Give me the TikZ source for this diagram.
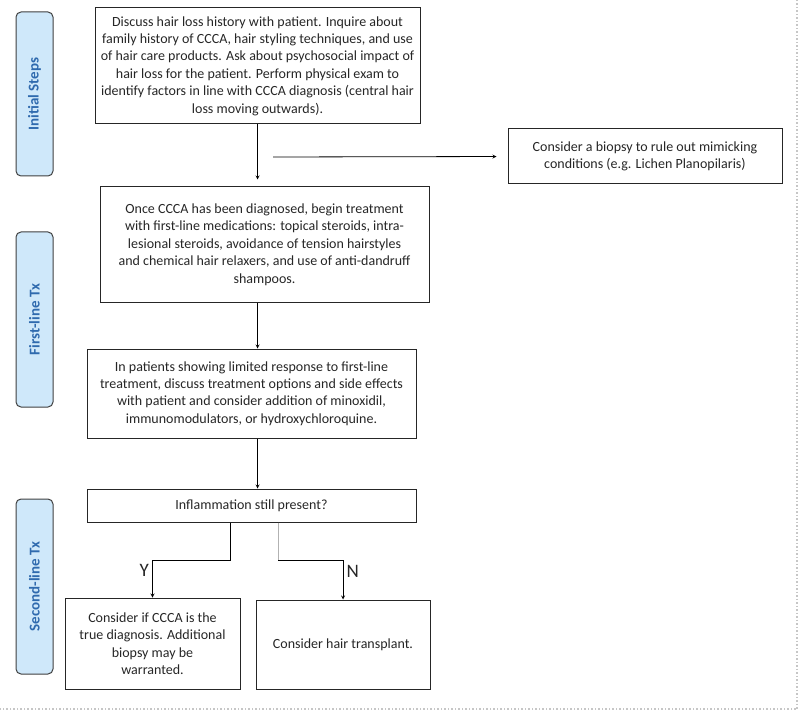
\documentclass[tikz,border=0pt]{standalone}
\usepackage{fontspec}
\setmainfont{Carlito}
\setsansfont{Carlito}
\usepackage{xcolor}
\usetikzlibrary{arrows.meta, positioning, calc}
\definecolor{lanefill}{HTML}{CFE8FA}
\definecolor{lanetext}{HTML}{2F6AAE}

\begin{document}
\begin{tikzpicture}[x=1pt, y=-1pt, >=stealth, font=\sffamily,
    stepbox/.style={draw=black!85, line width=1pt, align=center, inner sep=2pt, text=black!85,
      font=\sffamily\fontsize{14}{17.4}\selectfont},
    lane/.style={draw=black!75, line width=1pt, fill=lanefill, rounded corners=5pt, rotate=90,
      minimum height=37pt, text=lanetext, font=\sffamily\bfseries\fontsize{15}{17}\selectfont},
    flow/.style={->, line width=0.8pt},
    yn/.style={font=\sffamily\fontsize{19}{21}\selectfont, text=black!85}]
        \useasboundingbox (0,0) rectangle (800,711);
        
        \node[lane, minimum width=164pt] (initial) at (34.5,94) {Initial Steps};
        \node[lane, minimum width=175pt] (first) at (34.5,319.5) {First-line Tx};
        \node[lane, minimum width=175pt] (second) at (34.5,586.5) {Second-line Tx};
        
        \node[stepbox, minimum width=325pt, minimum height=116pt] (history) at (257.5,66)
            {Discuss hair loss history with patient. Inquire about\\
             family history of CCCA, hair styling techniques, and use\\
             of hair care products. Ask about psychosocial impact of\\
             hair loss for the patient. Perform physical exam to\\
             identify factors in line with CCCA diagnosis (central hair\\
             loss moving outwards).};
        \node[stepbox, minimum width=274pt, minimum height=55pt] (biopsy) at (645,156.5)
            {Consider a biopsy to rule out mimicking\\
             conditions (e.g. Lichen Planopilaris)};
        \node[stepbox, minimum width=329pt, minimum height=115pt] (firstline) at (264.5,244.5)
            {Once CCCA has been diagnosed, begin treatment\\
             with first-line medications: topical steroids, intra-\\
             lesional steroids, avoidance of tension hairstyles\\
             and chemical hair relaxers, and use of anti-dandruff\\
             shampoos.};
        \node[stepbox, minimum width=329pt, minimum height=89pt] (limited) at (251.5,393.5)
            {In patients showing limited response to first-line\\
             treatment, discuss treatment options and side effects\\
             with patient and consider addition of minoxidil,\\
             immunomodulators, or hydroxychloroquine.};
        \node[stepbox, minimum width=329pt, minimum height=33pt] (inflam) at (251.5,505.5)
            {Inflammation still present?};
        \node[stepbox, minimum width=175pt, minimum height=91pt] (recheck) at (152.5,643.5)
            {Consider if CCCA is the\\
             true diagnosis. Additional\\
             biopsy may be\\
             warranted.};
        \node[stepbox, minimum width=174pt, minimum height=89pt] (transplant) at (343,644.5)
            {Consider hair transplant.};
        
        \coordinate (branch) at (273,157);
        \coordinate (yesbend) at (230,560);
        \coordinate (nobend) at (278,560);
        
        \draw[flow, shorten >=7pt] (history.south) -- (firstline.north -| history.south);
        \draw[flow, shorten >=11pt] (branch) -- (biopsy.west);
        \draw[flow] (firstline.south -| history.south) -- (limited.north -| history.south);
        \draw[flow] (limited.south -| history.south) -- (inflam.north -| history.south);
        
        \draw[flow] (inflam.south -| yesbend) -- (yesbend) -| node[yn, pos=0.64, left] {Y} (recheck.north);
        \draw[gray!60, line width=0.8pt] (inflam.south -| nobend) -- (nobend);
        \draw[flow] (nobend) -| node[yn, pos=0.64, right] {N} (transplant.north);
        
        \draw[gray!45, dotted, line width=1.5pt] (797,0) -- (797,709) -- (0,709);
    \end{tikzpicture}
\end{document}
